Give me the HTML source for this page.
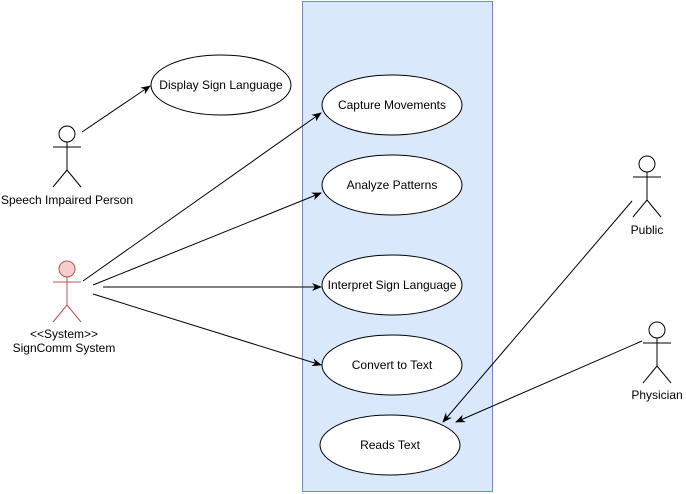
<!DOCTYPE html>
<html><head><style>body{margin:0;background:#fff}svg{display:block}text{font-family:"Liberation Sans",sans-serif;font-size:12px;fill:#000}</style></head><body>
<svg width="686" height="494" viewBox="0 0 686 494">
<defs><marker id="a" markerWidth="10" markerHeight="8" refX="9" refY="4" orient="auto" markerUnits="userSpaceOnUse"><path d="M0,0 L10,4 L0,8 L3,4 Z" fill="#000"/></marker></defs>
<rect x="302.5" y="1.5" width="190" height="490" fill="#dae8fc" stroke="#6c8ebf"/>
<g fill="#fff" stroke="#000">
<ellipse cx="221" cy="85" rx="70" ry="30"/>
<ellipse cx="392" cy="105" rx="70" ry="30"/>
<ellipse cx="392" cy="185" rx="70" ry="30"/>
<ellipse cx="392" cy="285" rx="70" ry="30"/>
<ellipse cx="392" cy="365" rx="70" ry="30"/>
<ellipse cx="390" cy="445" rx="70" ry="30"/>
</g>
<g text-anchor="middle">
<text x="221" y="89">Display Sign Language</text>
<text x="392" y="109">Capture Movements</text>
<text x="392" y="189">Analyze Patterns</text>
<text x="392" y="289">Interpret Sign Language</text>
<text x="392" y="369">Convert to Text</text>
<text x="390" y="449">Reads Text</text>
<text x="67" y="204">Speech Impaired Person</text>
<text x="64" y="338">&lt;&lt;System&gt;&gt;</text>
<text x="64" y="352">SignComm System</text>
<text x="647" y="234">Public</text>
<text x="657" y="399">Physician</text>
</g>
<g fill="none" stroke="#000">
<circle cx="67" cy="134" r="8" fill="#fff"/>
<path d="M67,142V170M53,147H81M67,170L53,187M67,170L81,187"/>
<circle cx="647" cy="164" r="8" fill="#fff"/>
<path d="M647,172V200M633,177H661M647,200L633,217M647,200L661,217"/>
<circle cx="657" cy="330" r="8" fill="#fff"/>
<path d="M657,338V366M643,343H671M657,366L643,383M657,366L671,383"/>
</g>
<g fill="none" stroke="#b85450">
<circle cx="67" cy="269" r="8" fill="#f8cecc"/>
<path d="M67,277V305M53,282H81M67,305L53,322M67,305L81,322"/>
</g>
<g stroke="#000" marker-end="url(#a)">
<line x1="82" y1="132" x2="150" y2="86"/>
<line x1="83" y1="281" x2="321" y2="113"/>
<line x1="93" y1="285" x2="321" y2="193"/>
<line x1="103" y1="287" x2="321" y2="287"/>
<line x1="93" y1="294" x2="321" y2="365"/>
<line x1="632" y1="201" x2="443" y2="422"/>
<line x1="642" y1="341" x2="456" y2="422"/>
</g>
</svg>
</body></html>
